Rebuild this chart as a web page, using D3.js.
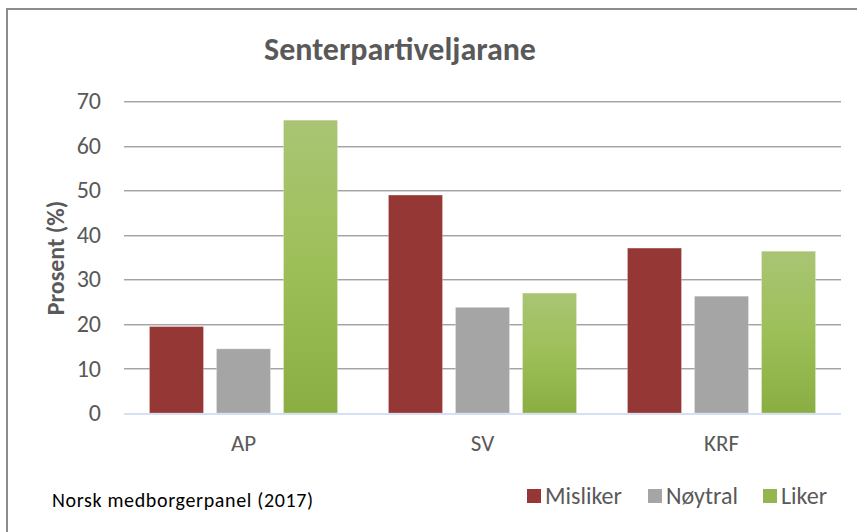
<!DOCTYPE html>
<html>
<head>
<meta charset="utf-8">
<script src="https://cdn.jsdelivr.net/npm/d3@7"></script>
<style>
  body { margin: 0; background: #fff; }
  svg { display: block; }
</style>
</head>
<body>
<div id="chart"></div>
<script>
// Data
var kategoriar = ["AP", "SV", "KRF"];
var seriar = ["Misliker", "Nøytral", "Liker"];
var misliker = [19.4, 48.9, 37.0];
var noytral = [14.4, 23.7, 26.2];
var liker = [65.7, 26.9, 36.3];
var yTicks = [0, 10, 20, 30, 40, 50, 60, 70];
var farger = ["#953735", "#A5A5A5", "url(#gronGrad)"];
var legendFarger = ["#953735", "#A5A5A5", "#93B74E"];

var svgWidth = 857;
var svgHeight = 532;
var margin = { top: 101, right: 16, bottom: 119, left: 124 };
var width = svgWidth - margin.left - margin.right;
var height = svgHeight - margin.top - margin.bottom;
var font = "Calibri, Carlito, 'Open Sans', sans-serif";

var svg = d3.select("#chart")
    .append("svg")
    .attr("width", svgWidth)
    .attr("height", svgHeight);

// Gradient for the green bars
var defs = svg.append("defs");
var grad = defs.append("linearGradient")
    .attr("id", "gronGrad")
    .attr("x1", 0).attr("y1", 0).attr("x2", 0).attr("y2", 1);
grad.append("stop").attr("offset", "0%").attr("stop-color", "#A9C574");
grad.append("stop").attr("offset", "50%").attr("stop-color", "#9DBF58");
grad.append("stop").attr("offset", "100%").attr("stop-color", "#8AAE43");

// Outer frame
svg.append("path")
    .attr("d", "M7," + svgHeight + " V9 H" + svgWidth)
    .attr("fill", "none")
    .attr("stroke", "#8C8C8C")
    .attr("stroke-width", 2);

var g = svg.append("g")
    .attr("transform", "translate(" + margin.left + "," + margin.top + ")");

var x0 = d3.scaleBand().domain(kategoriar).range([0, width]).padding(0);
var x1 = d3.scaleBand().domain(seriar).range([0, x0.bandwidth()])
    .paddingInner(0.194).paddingOuter(0.38);
var y = d3.scaleLinear().domain([0, 70]).range([height, 0]);

// Gridlines (dark line with a light shadow below)
var grid = g.append("g");
grid.selectAll(".gl")
    .data(yTicks.slice(1))
    .enter().append("line")
    .attr("class", "gl")
    .attr("x1", 0).attr("x2", width)
    .attr("y1", function (d) { return Math.round(y(d)) + 0.5; })
    .attr("y2", function (d) { return Math.round(y(d)) + 0.5; })
    .attr("stroke", "#A3A3A3")
    .attr("stroke-width", 1);
grid.selectAll(".gs")
    .data(yTicks.slice(1))
    .enter().append("line")
    .attr("class", "gs")
    .attr("x1", 0).attr("x2", width)
    .attr("y1", function (d) { return Math.round(y(d)) + 1.5; })
    .attr("y2", function (d) { return Math.round(y(d)) + 1.5; })
    .attr("stroke", "#D6D6D6")
    .attr("stroke-width", 1);

// Y axis tick labels
var yAxis = g.append("g")
    .call(d3.axisLeft(y).tickValues(yTicks).tickSize(0).tickPadding(23));
yAxis.select(".domain").remove();
yAxis.selectAll("text")
    .attr("font-family", font)
    .attr("font-size", 24)
    .attr("fill", "#595959");

// Bars
var data = kategoriar.map(function (k, i) {
    return { kat: k, verdi: [misliker[i], noytral[i], liker[i]] };
});
var grupper = g.selectAll(".gruppe")
    .data(data)
    .enter().append("g")
    .attr("class", "gruppe")
    .attr("transform", function (d) { return "translate(" + x0(d.kat) + ",0)"; });

grupper.selectAll("rect")
    .data(function (d) {
        return seriar.map(function (s, j) { return { s: s, v: d.verdi[j], j: j }; });
    })
    .enter().append("rect")
    .attr("x", function (d) { return x1(d.s); })
    .attr("y", function (d) { return y(d.v); })
    .attr("width", x1.bandwidth())
    .attr("height", function (d) { return height - y(d.v); })
    .attr("fill", function (d) { return farger[d.j]; })
    .attr("stroke", "rgba(255,255,255,0.25)")
    .attr("stroke-width", 1);

// Baseline
g.append("line")
    .attr("x1", 0).attr("x2", width)
    .attr("y1", y(0) + 1).attr("y2", y(0) + 1)
    .attr("stroke", "#D5E1F2")
    .attr("stroke-width", 2);

// X axis labels
var xAxis = g.append("g")
    .attr("transform", "translate(0," + height + ")")
    .call(d3.axisBottom(x0).tickSize(0).tickPadding(22));
xAxis.select(".domain").remove();
xAxis.selectAll("text")
    .attr("font-family", font)
    .attr("font-size", 23)
    .attr("fill", "#595959");

// Title
svg.append("text")
    .attr("x", 400)
    .attr("y", 60)
    .attr("text-anchor", "middle")
    .attr("font-family", font)
    .attr("font-weight", "bold")
    .attr("font-size", 32)
    .attr("fill", "#595959")
    .text("Senterpartiveljarane");

// Y axis title
svg.append("text")
    .attr("transform", "translate(64,258) rotate(-90)")
    .attr("text-anchor", "middle")
    .attr("font-family", font)
    .attr("font-weight", "bold")
    .attr("font-size", 24)
    .attr("fill", "#595959")
    .text("Prosent (%)");

// Source
svg.append("text")
    .attr("x", 52)
    .attr("y", 507)
    .attr("font-family", font)
    .attr("font-size", 20)
    .attr("letter-spacing", 0.65)
    .attr("fill", "#000")
    .text("Norsk medborgerpanel (2017)");

// Legend
var legendX = [527, 648, 763];
var legend = svg.selectAll(".legend")
    .data(seriar)
    .enter().append("g")
    .attr("class", "legend")
    .attr("transform", function (d, i) { return "translate(" + legendX[i] + ",489)"; });
legend.append("rect")
    .attr("width", 14).attr("height", 14)
    .attr("fill", function (d, i) { return legendFarger[i]; });
legend.append("text")
    .attr("x", 18)
    .attr("y", 15)
    .attr("font-family", font)
    .attr("font-size", 24)
    .attr("fill", "#595959")
    .text(function (d) { return d; });
</script>
</body>
</html>
